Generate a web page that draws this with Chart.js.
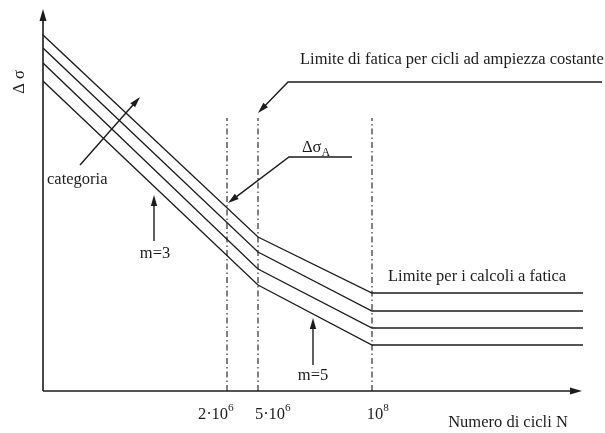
<!DOCTYPE html>
<html>
<head>
<meta charset="utf-8">
<script src="https://cdn.jsdelivr.net/npm/chart.js@4"></script>
<style>
  html, body { margin: 0; padding: 0; background: #fff; }
  #wrap { width: 605px; height: 433px; }
</style>
</head>
<body>
<div id="wrap"><canvas id="snChart"></canvas></div>
<script>
// schematic units: x from the vertical axis, y from the horizontal axis
const cycles = [0, 215, 329, 540];          // start, 5·10^6, 10^8, end
const cat1 = [356, 154, 98, 98];
const cat2 = [343, 139, 80, 80];
const cat3 = [328, 122, 63, 63];
const cat4 = [310, 106, 46, 46];

const markPos = [184, 215, 329];            // 2·10^6, 5·10^6, 10^8
const markTop = 273;                        // where dash-dot lines begin
const tickPos = [170, 227, 332];            // label centres
const tickBase = ['2·10', '5·10', '10'];
const tickExp = ['6', '6', '8'];

const ink = '#1c1c1c';
const serif = '"Liberation Serif", "DejaVu Serif", serif';
const fs = 16.5;

function pts(ys) { return cycles.map((x, i) => ({ x: x, y: ys[i] })); }

const curveSets = [cat1, cat2, cat3, cat4].map(function (ys) {
    return {
        data: pts(ys),
        showLine: true,
        borderColor: ink,
        borderWidth: 1.3,
        pointRadius: 0,
        fill: false,
        tension: 0
    };
});

const markSets = markPos.map(function (x) {
    return {
        data: [{ x: x, y: 0 }, { x: x, y: markTop }],
        showLine: true,
        borderColor: ink,
        borderWidth: 1.1,
        borderDash: [6, 3, 1.5, 3],
        pointRadius: 0,
        fill: false
    };
});

// annotations (same units as the data)
const notes = [
    { text: 'Limite di fatica per cicli ad ampiezza costante', x: 257, y: 331, align: 'left' },
    { text: 'categoria', x: 4, y: 211, align: 'left' },
    { text: 'm=3', x: 112, y: 137, align: 'center' },
    { text: 'm=5', x: 270, y: 15, align: 'center' },
    { text: 'Limite per i calcoli a fatica', x: 345, y: 114, align: 'left' },
    { text: 'Numero di cicli N', x: 465, y: -32, align: 'center' }
];
const arrows = [
    { path: [[559, 309], [245, 309], [215, 278]] },
    { path: [[309, 234], [246, 234], [185, 188]] },
    { path: [[37, 226], [97, 294]] },
    { path: [[111, 150], [111, 196]] },
    { path: [[270, 26], [270, 73]] }
];

function head(c, x0, y0, x1, y1, len, half) {
    const a = Math.atan2(y1 - y0, x1 - x0);
    c.beginPath();
    c.moveTo(x1, y1);
    c.lineTo(x1 - len * Math.cos(a) + half * Math.sin(a), y1 - len * Math.sin(a) - half * Math.cos(a));
    c.lineTo(x1 - len * Math.cos(a) - half * Math.sin(a), y1 - len * Math.sin(a) + half * Math.cos(a));
    c.closePath();
    c.fill();
}

const sketch = {
    id: 'sketch',
    afterDraw(chart) {
        const c = chart.ctx, xs = chart.scales.x, ys = chart.scales.y;
        const px = v => xs.getPixelForValue(v), py = v => ys.getPixelForValue(v);
        c.save();
        c.strokeStyle = ink;
        c.fillStyle = ink;

        // axis arrows
        c.lineWidth = 1.6;
        c.beginPath();
        c.moveTo(px(0), py(0)); c.lineTo(px(0), py(376));
        c.moveTo(px(0), py(0)); c.lineTo(px(533), py(0));
        c.stroke();
        head(c, px(0), py(0), px(0), py(382), 12, 3.5);
        head(c, px(0), py(0), px(539), py(0), 12, 3.5);

        // leader arrows
        c.lineWidth = 1.4;
        arrows.forEach(function (a) {
            const p = a.path.map(q => [px(q[0]), py(q[1])]);
            const n = p.length;
            const ang = Math.atan2(p[n - 1][1] - p[n - 2][1], p[n - 1][0] - p[n - 2][0]);
            c.beginPath();
            c.moveTo(p[0][0], p[0][1]);
            for (let i = 1; i < n - 1; i++) c.lineTo(p[i][0], p[i][1]);
            c.lineTo(p[n - 1][0] - 9 * Math.cos(ang), p[n - 1][1] - 9 * Math.sin(ang));
            c.stroke();
            head(c, p[n - 2][0], p[n - 2][1], p[n - 1][0], p[n - 1][1], 11, 3.2);
        });

        // texts
        c.font = fs + 'px ' + serif;
        c.textBaseline = 'middle';
        notes.forEach(function (t) {
            c.textAlign = t.align;
            c.fillText(t.text, px(t.x), py(t.y));
        });

        // exponents of the tick labels
        const tickY = xs.bottom - xs.height + 14 + fs / 2;
        tickPos.forEach(function (v, i) {
            c.font = fs + 'px ' + serif;
            const w = c.measureText(tickBase[i]).width;
            c.font = (fs * 0.68) + 'px ' + serif;
            c.textAlign = 'left';
            c.fillText(tickExp[i], px(v) + w / 2, tickY - 5);
        });

        // Δσ_A
        c.font = fs + 'px ' + serif;
        c.textAlign = 'left';
        c.fillText('Δσ', px(259), py(243));
        const w = c.measureText('Δσ').width;
        c.font = '12px ' + serif;
        c.fillText('A', px(259) + w, py(243) + 5);

        // Δσ axis label
        c.font = fs + 'px ' + serif;
        c.translate(px(-23), py(309));
        c.rotate(-Math.PI / 2);
        c.textAlign = 'center';
        c.fillText('Δ σ', 0, 0);
        c.restore();
    }
};

new Chart(document.getElementById('snChart'), {
    type: 'scatter',
    data: { datasets: curveSets.concat(markSets) },
    plugins: [sketch],
    options: {
        responsive: true,
        maintainAspectRatio: false,
        animation: false,
        layout: { padding: { top: 9, right: 22, left: 0, bottom: 0 } },
        plugins: { legend: { display: false }, tooltip: { enabled: false } },
        scales: {
            x: {
                type: 'linear',
                min: 0,
                max: 540,
                afterFit: s => { s.height = 42; },
                afterBuildTicks: s => { s.ticks = tickPos.map(v => ({ value: v })); },
                grid: { display: false, drawTicks: false },
                border: { display: false },
                ticks: {
                    autoSkip: false,
                    maxRotation: 0,
                    padding: 14,
                    color: ink,
                    font: { family: serif, size: fs },
                    callback: (v, i) => tickBase[i]
                }
            },
            y: {
                type: 'linear',
                min: 0,
                max: 382,
                afterFit: s => { s.width = 43; },
                grid: { display: false, drawTicks: false },
                border: { display: false },
                ticks: { display: false }
            }
        }
    }
});
</script>
</body>
</html>
